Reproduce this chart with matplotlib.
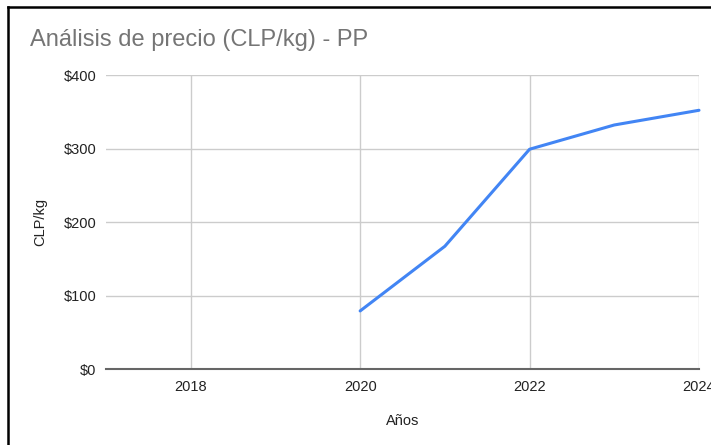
import matplotlib
matplotlib.use("Agg")
import matplotlib.pyplot as plt
from matplotlib.lines import Line2D
from matplotlib.ticker import FuncFormatter

plt.rcParams['font.family'] = ['Liberation Sans', 'DejaVu Sans']

years = [2020, 2021, 2022, 2023, 2024]
prices = [79, 167, 299, 332, 352]
x_ticks = [2018, 2020, 2022, 2024]
y_ticks = [0, 100, 200, 300, 400]

W, H = 711, 445
fig = plt.figure(figsize=(W/100, H/100), dpi=100)
ax = fig.add_axes([106/W, 1-369/H, (699-106)/W, (369-75)/H])

ax.plot(years, prices, color='#4285F4', linewidth=2.2, solid_capstyle='round', clip_on=False)
ax.set_xlim(2017, 2024)
ax.set_ylim(0, 400)
ax.set_xticks(x_ticks)
ax.set_yticks(y_ticks)
ax.yaxis.set_major_formatter(FuncFormatter(lambda v, p: f"${int(v)}"))
ax.grid(True, color='#cccccc', linewidth=1)
ax.set_axisbelow(True)
for s in ['top', 'right', 'left']:
    ax.spines[s].set_visible(False)
ax.spines['bottom'].set_color('#666666')
ax.spines['bottom'].set_linewidth(1.5)
ax.tick_params(axis='both', length=0, labelsize=10.5, colors='#222222')
ax.tick_params(axis='y', pad=7)
ax.tick_params(axis='x', pad=8)

ax.set_xlabel('Años', fontsize=10.5, color='#222222', labelpad=14)
ax.set_ylabel('CLP/kg', fontsize=10.5, color='#222222', labelpad=12)

fig.text(30/W, 1-40/H, 'Análisis de precio (CLP/kg) - PP', fontsize=17, color='#757575',
         ha='left', va='center')

fig.add_artist(Line2D([8/W, 8/W], [0, 1-6.5/H], color='black', linewidth=1.8, transform=fig.transFigure))
fig.add_artist(Line2D([8/W, 1], [1-6.5/H, 1-6.5/H], color='black', linewidth=1.8, transform=fig.transFigure))

fig.savefig('out.png', dpi=100)
